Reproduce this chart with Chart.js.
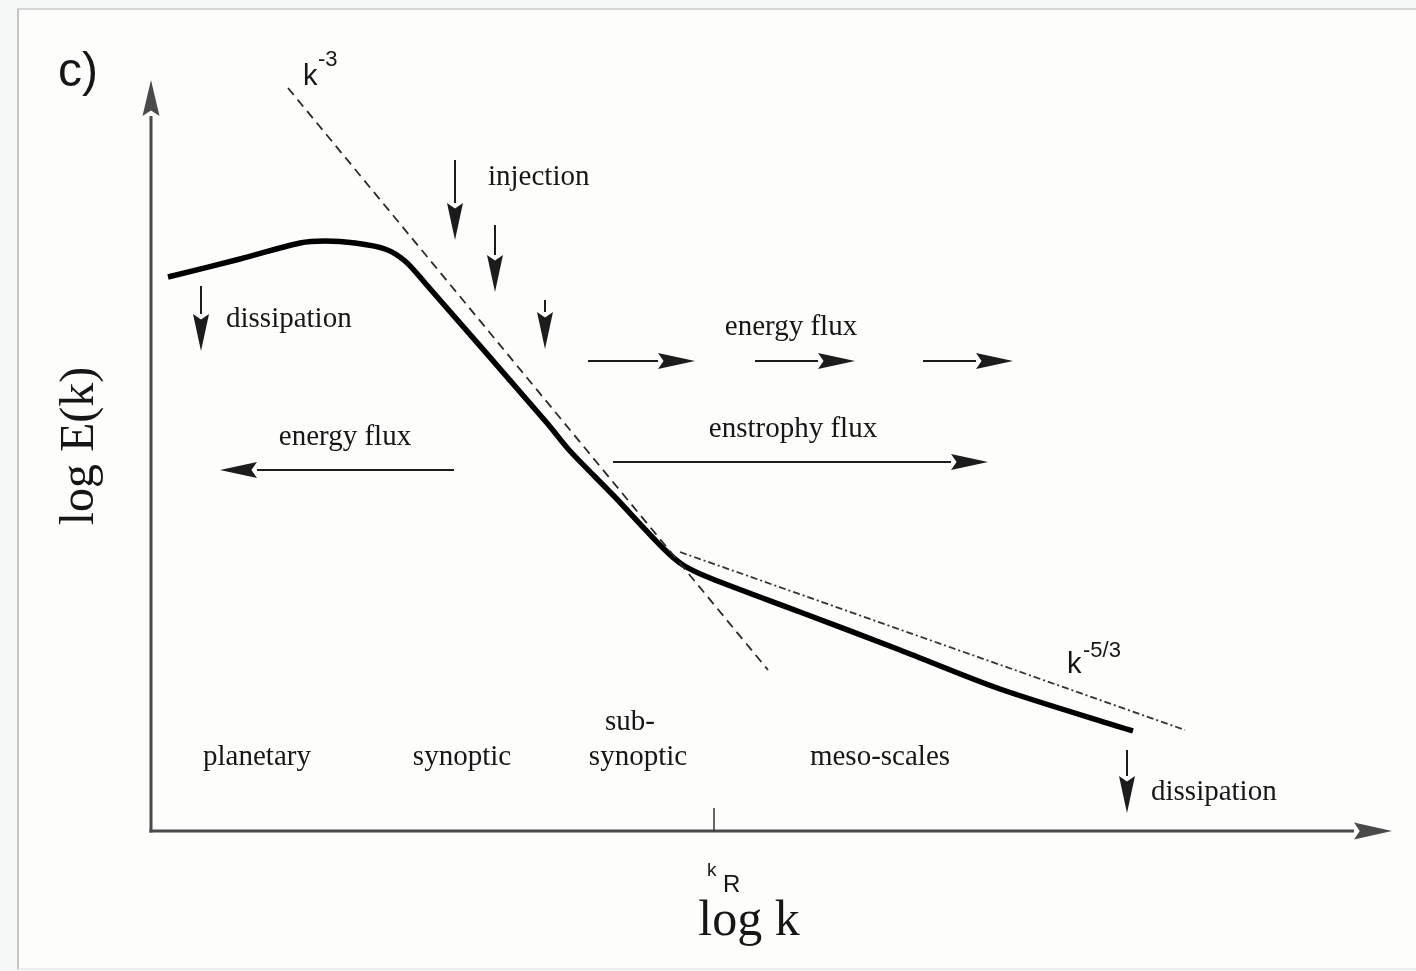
<!DOCTYPE html>
<html>
<head>
<meta charset="utf-8">
<script src="https://cdn.jsdelivr.net/npm/chart.js@4.4.1/dist/chart.umd.min.js"></script>
<style>
  html, body { margin: 0; padding: 0; background: #f6f7f7; width: 1416px; height: 971px; overflow: hidden; }
  #frame { position: absolute; left: 17px; top: 8px; width: 1420px; height: 958px;
           border-left: 2px solid #c4c4c4; border-top: 2px solid #d6d6d6;
           border-bottom: 2px solid #eaeeee; background: #fdfdfc; }
  #c { position: absolute; left: 0; top: 0; }
</style>
</head>
<body>
<div id="frame"></div>
<canvas id="c" width="1416" height="971"></canvas>
<script>
// ---- data (arbitrary log units) ----
const X_MAX = 1241, Y_MAX = 751;
const logK   = [17, 89, 149, 174, 204, 234, 254, 274, 396, 419, 462, 512, 532, 559, 649, 749, 849, 982];
const logE   = [554, 572, 588, 590, 588, 582, 570, 548, 408, 380, 336, 283, 266, 253, 219, 181, 142, 100];
const km3K   = [137, 617];       // k^-3 reference line
const km3E   = [743, 161];
const km53K  = [529, 1034];      // k^-5/3 reference line
const km53E  = [279, 101];
const kR     = 563;              // tick position on log k axis

// annotation arrows [x0, y0, x1, y1] in data units
const arrowList = [
  [304, 671, 304, 591], [344, 606, 344, 539], [394, 531, 394, 482],   // injection
  [50, 545, 50, 480],                                                 // dissipation (large scale)
  [976, 81, 976, 18],                                                 // dissipation (small scale)
  [437, 470, 544, 470], [604, 470, 704, 470], [772, 470, 862, 470],   // energy flux (forward)
  [462, 369, 837, 369],                                               // enstrophy flux
  [303, 361, 69, 361]                                                 // energy flux (inverse)
];

const SERIF = '"Liberation Serif", "Times New Roman", serif';
const SANS = '"Liberation Sans", Arial, sans-serif';
const labelList = [
  ['c)', -93, 745, 48, SANS, 'left'],
  ['k', 152, 746, 29, SANS, 'left'],
  ['-3', 167, 765, 22, SANS, 'left'],
  ['injection', 337, 646, 29, SERIF, 'left'],
  ['dissipation', 75, 504, 29, SERIF, 'left'],
  ['energy flux', 640, 496, 29, SERIF, 'center'],
  ['energy flux', 194, 386, 29, SERIF, 'center'],
  ['enstrophy flux', 642, 394, 29, SERIF, 'center'],
  ['k', 916, 158, 29, SANS, 'left'],
  ['-5/3', 932, 174, 22, SANS, 'left'],
  ['planetary', 106, 66, 29, SERIF, 'center'],
  ['synoptic', 311, 66, 29, SERIF, 'center'],
  ['sub-', 479, 101, 29, SERIF, 'center'],
  ['synoptic', 487, 66, 29, SERIF, 'center'],
  ['meso-scales', 729, 66, 29, SERIF, 'center'],
  ['dissipation', 1000, 31, 29, SERIF, 'left'],
  ['k', 556, -45, 19, SANS, 'left'],
  ['R', 572, -61, 24, SANS, 'left'],
  ['log k', 598, -104, 50, SERIF, 'center']
];
const yTitle = ['log E(k)', -58, 385, 48, SERIF];

function pts(xs, ys) { return xs.map((x, i) => ({ x: x, y: ys[i] })); }

function drawArrow(ctx, x0, y0, x1, y1, headLen, half, lw, color) {
  const ang = Math.atan2(y1 - y0, x1 - x0);
  const bx = x1 - headLen * Math.cos(ang), by = y1 - headLen * Math.sin(ang);
  ctx.strokeStyle = color; ctx.fillStyle = color; ctx.lineWidth = lw;
  ctx.beginPath(); ctx.moveTo(x0, y0); ctx.lineTo(bx, by); ctx.stroke();
  const nx = -Math.sin(ang) * half, ny = Math.cos(ang) * half;
  const ix = x1 - headLen * 0.85 * Math.cos(ang), iy = y1 - headLen * 0.85 * Math.sin(ang);
  ctx.beginPath();
  ctx.moveTo(x1, y1);
  ctx.lineTo(bx + nx, by + ny);
  ctx.lineTo(ix, iy);
  ctx.lineTo(bx - nx, by - ny);
  ctx.closePath(); ctx.fill();
}

const decor = {
  id: 'decor',
  beforeDatasetsDraw(chart) {
    const ctx = chart.ctx, xs = chart.scales.x, ys = chart.scales.y;
    const X = v => xs.getPixelForValue(v), Y = v => ys.getPixelForValue(v);
    ctx.save();
    drawArrow(ctx, X(0), Y(0) + 1.5, X(0), Y(Y_MAX), 36, 8.5, 3, '#4a4a4a');
    drawArrow(ctx, X(0) - 1.5, Y(0), X(X_MAX), Y(0), 38, 8.5, 3, '#4a4a4a');
    ctx.strokeStyle = '#333'; ctx.lineWidth = 1.5;
    ctx.beginPath(); ctx.moveTo(X(kR), Y(0)); ctx.lineTo(X(kR), Y(23)); ctx.stroke();
    ctx.restore();
  },
  afterDatasetsDraw(chart) {
    const ctx = chart.ctx, xs = chart.scales.x, ys = chart.scales.y;
    const X = v => xs.getPixelForValue(v), Y = v => ys.getPixelForValue(v);
    ctx.save();
    arrowList.forEach(a => drawArrow(ctx, X(a[0]), Y(a[1]), X(a[2]), Y(a[3]), 37, 8, 2, '#1c1c1c'));
    ctx.fillStyle = '#161616';
    ctx.textBaseline = 'alphabetic';
    labelList.forEach(l => {
      ctx.font = l[3] + 'px ' + l[4];
      ctx.textAlign = l[5];
      ctx.fillText(l[0], X(l[1]), Y(l[2]));
    });
    ctx.translate(X(yTitle[1]), Y(yTitle[2]));
    ctx.rotate(-Math.PI / 2);
    ctx.font = yTitle[3] + 'px ' + yTitle[4];
    ctx.textAlign = 'center';
    ctx.fillText(yTitle[0], 0, 0);
    ctx.restore();
  }
};

new Chart(document.getElementById('c'), {
  type: 'scatter',
  data: {
    datasets: [
      { data: pts(km3K, km3E), showLine: true, borderColor: '#2a2a2a', borderWidth: 1.8,
        borderDash: [9, 6], pointRadius: 0 },
      { data: pts(km53K, km53E), showLine: true, borderColor: '#333', borderWidth: 1.8,
        borderDash: [7, 3, 2, 3], pointRadius: 0 },
      { data: pts(logK, logE), showLine: true, borderColor: '#000', borderWidth: 5.5,
        tension: 0.3, pointRadius: 0, borderCapStyle: 'butt', borderJoinStyle: 'round' }
    ]
  },
  options: {
    responsive: false,
    devicePixelRatio: 1,
    animation: false,
    layout: { padding: { left: 151, right: 24, top: 80, bottom: 140 } },
    plugins: { legend: { display: false }, tooltip: { enabled: false } },
    scales: {
      x: { type: 'linear', display: false, min: 0, max: X_MAX },
      y: { type: 'linear', display: false, min: 0, max: Y_MAX }
    }
  },
  plugins: [decor]
});
</script>
</body>
</html>
